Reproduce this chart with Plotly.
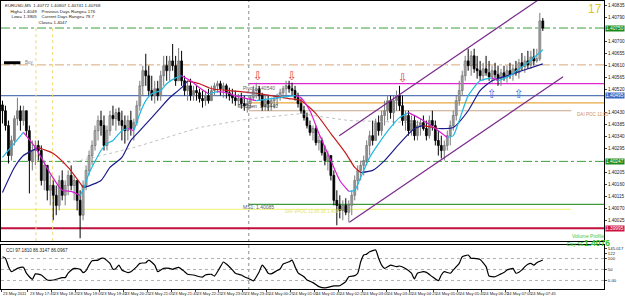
import plotly.graph_objects as go

# ---------------- data (EURUSD M5, bar index 0 = 23 May 17:00) ----------------
high = [1.40476,1.40457,1.40401,1.40344,1.40420,1.40487,1.40457,1.40457,1.40438,1.40382,
        1.40326,1.40326,1.40326,1.40307,1.40250,1.40232,1.40194,1.40175,1.40156,1.40194,
        1.40213,1.40175,1.40213,1.40232,1.40194,1.40175,1.40138,1.40175,1.40232,1.40288,
        1.40326,1.40382,1.40420,1.40438,1.40420,1.40382,1.40438,1.40457,1.40446,1.40450,
        1.40438,1.40420,1.40420,1.40438,1.40408,1.40476,1.40551,1.40608,1.40653,1.40608,
        1.40570,1.40551,1.40551,1.40589,1.40645,1.40645,1.40645,1.40690,1.40645,1.40675,
        1.40664,1.40570,1.40551,1.40559,1.40532,1.40532,1.40521,1.40514,1.40514,1.40521,
        1.40532,1.40544,1.40551,1.40551,1.40544,1.40540,1.40525,1.40521,1.40514,1.40502,
        1.40506,1.40495,1.40484,1.40495,1.40532,1.40544,1.40532,1.40506,1.40495,1.40495,
        1.40487,1.40495,1.40502,1.40521,1.40532,1.40551,1.40551,1.40544,1.40532,1.40506,
        1.40484,1.40457,1.40431,1.40401,1.40382,1.40382,1.40344,1.40337,1.40307,1.40288,
        1.40269,1.40213,1.40138,1.40119,1.40100,1.40108,1.40100,1.40138,1.40194,1.40232,
        1.40250,1.40269,1.40326,1.40363,1.40401,1.40408,1.40420,1.40438,1.40476,1.40495,
        1.40495,1.40495,1.40514,1.40532,1.40495,1.40438,1.40438,1.40420,1.40420,1.40401,
        1.40408,1.40420,1.40401,1.40420,1.40438,1.40401,1.40363,1.40344,1.40326,1.40363,
        1.40401,1.40438,1.40495,1.40551,1.40589,1.40645,1.40672,1.40664,1.40672,1.40645,
        1.40626,1.40619,1.40645,1.40626,1.40608,1.40619,1.40608,1.40596,1.40608,1.40608,
        1.40619,1.40611,1.40626,1.40634,1.40656,1.40645,1.40664,1.40664,1.40672,1.40672,
        1.40807,1.40788]
low = [1.40390,1.40363,1.40239,1.40250,1.40307,1.40382,1.40363,1.40382,1.40344,1.40126,
       1.40213,1.40232,1.40250,1.40156,1.40138,1.40100,1.40081,1.40025,1.40044,1.40062,
       1.40100,1.40081,1.40119,1.40138,1.40100,1.40062,1.39957,1.40025,1.40138,1.40194,
       1.40232,1.40288,1.40326,1.40344,1.40288,1.40288,1.40344,1.40382,1.40363,1.40382,
       1.40326,1.40314,1.40326,1.40344,1.40326,1.40382,1.40438,1.40495,1.40532,1.40495,
       1.40476,1.40465,1.40476,1.40476,1.40532,1.40551,1.40551,1.40589,1.40532,1.40551,
       1.40532,1.40495,1.40476,1.40476,1.40476,1.40476,1.40469,1.40450,1.40457,1.40465,
       1.40476,1.40495,1.40506,1.40495,1.40487,1.40484,1.40476,1.40465,1.40457,1.40450,
       1.40446,1.40438,1.40431,1.40446,1.40476,1.40484,1.40476,1.40438,1.40438,1.40438,
       1.40438,1.40446,1.40457,1.40476,1.40487,1.40495,1.40506,1.40495,1.40476,1.40450,
       1.40427,1.40401,1.40371,1.40344,1.40326,1.40307,1.40288,1.40269,1.40232,1.40213,
       1.40175,1.40081,1.40006,1.40032,1.40025,1.40044,1.40017,1.40044,1.40100,1.40138,
       1.40175,1.40194,1.40232,1.40269,1.40307,1.40326,1.40344,1.40344,1.40382,1.40401,
       1.40408,1.40382,1.40438,1.40438,1.40382,1.40363,1.40344,1.40344,1.40326,1.40326,
       1.40344,1.40363,1.40326,1.40333,1.40363,1.40307,1.40269,1.40258,1.40250,1.40288,
       1.40307,1.40363,1.40401,1.40457,1.40495,1.40551,1.40589,1.40570,1.40581,1.40559,
       1.40551,1.40551,1.40570,1.40551,1.40544,1.40559,1.40532,1.40532,1.40551,1.40544,
       1.40559,1.40551,1.40570,1.40559,1.40589,1.40581,1.40596,1.40596,1.40608,1.40619,
       1.40626,1.40739]
close = [1.40438,1.40382,1.40269,1.40326,1.40408,1.40438,1.40401,1.40438,1.40363,1.40250,
         1.40288,1.40307,1.40288,1.40175,1.40232,1.40138,1.40156,1.40119,1.40081,1.40175,
         1.40119,1.40156,1.40194,1.40156,1.40175,1.40100,1.40044,1.40156,1.40213,1.40269,
         1.40307,1.40363,1.40401,1.40382,1.40307,1.40363,1.40420,1.40408,1.40431,1.40401,
         1.40382,1.40363,1.40401,1.40371,1.40393,1.40457,1.40532,1.40589,1.40570,1.40514,
         1.40495,1.40521,1.40495,1.40570,1.40608,1.40589,1.40626,1.40608,1.40551,1.40626,
         1.40551,1.40514,1.40532,1.40495,1.40514,1.40506,1.40484,1.40476,1.40495,1.40476,
         1.40514,1.40532,1.40540,1.40521,1.40532,1.40506,1.40495,1.40487,1.40476,1.40484,
         1.40465,1.40457,1.40465,1.40487,1.40514,1.40521,1.40495,1.40454,1.40476,1.40465,
         1.40476,1.40484,1.40491,1.40506,1.40521,1.40532,1.40521,1.40514,1.40487,1.40465,
         1.40438,1.40412,1.40382,1.40356,1.40371,1.40318,1.40326,1.40280,1.40250,1.40269,
         1.40194,1.40100,1.40081,1.40062,1.40081,1.40055,1.40081,1.40119,1.40175,1.40213,
         1.40232,1.40250,1.40307,1.40344,1.40326,1.40393,1.40363,1.40420,1.40438,1.40476,
         1.40431,1.40476,1.40495,1.40457,1.40401,1.40420,1.40363,1.40401,1.40344,1.40382,
         1.40393,1.40371,1.40344,1.40401,1.40382,1.40326,1.40307,1.40288,1.40307,1.40344,
         1.40382,1.40420,1.40476,1.40514,1.40570,1.40626,1.40608,1.40645,1.40596,1.40589,
         1.40570,1.40596,1.40581,1.40566,1.40589,1.40574,1.40559,1.40581,1.40566,1.40589,
         1.40574,1.40596,1.40581,1.40619,1.40604,1.40626,1.40611,1.40641,1.40626,1.40634,
         1.40777,1.40750]
first_open = 1.40460

fast_bar = [0,7,11,16,20,23,26,27,29,33,35,37,40,42,44,46,48,50,53,55,58,60,63,66,69,72,75,79,85,90,
            95,98,100,103,106,110,113,116,118,120,123,126,130,133,136,140,145,149,151,153,156,160,164,166,170,173,176,181]
fast_val = [1.40262,1.40356,1.40299,1.40202,1.40138,1.40134,1.40119,1.40138,1.40202,1.40288,
            1.40314,1.40326,1.40363,1.40371,1.40363,1.40427,1.40476,1.40502,1.40514,1.40540,
            1.40562,1.40570,1.40551,1.40525,1.40502,1.40510,1.40506,1.40491,1.40476,1.40484,
            1.40491,1.40495,1.40487,1.40438,1.40352,1.40250,1.40175,1.40134,1.40138,1.40187,
            1.40262,1.40314,1.40375,1.40412,1.40431,1.40408,1.40371,1.40337,1.40344,1.40401,
            1.40495,1.40551,1.40562,1.40551,1.40570,1.40596,1.40619,1.40668]
slow_bar = [0,4,7,10,12,17,22,27,28,33,36,40,43,46,50,53,56,60,62,66,70,76,83,90,96,100,105,110,115,118,
            120,124,128,133,138,141,146,151,156,160,164,169,174,181]
slow_val = [1.40130,1.40224,1.40269,1.40288,1.40299,1.40277,1.40224,1.40149,1.40151,1.40175,
            1.40224,1.40262,1.40326,1.40363,1.40412,1.40450,1.40487,1.40525,1.40551,1.40540,
            1.40521,1.40514,1.40506,1.40495,1.40484,1.40476,1.40427,1.40352,1.40277,1.40224,
            1.40205,1.40213,1.40250,1.40314,1.40371,1.40382,1.40371,1.40375,1.40438,1.40514,
            1.40551,1.40570,1.40589,1.40615]
grey_bar = [20,26,33,44,55,66,83,100,116,140]
grey_val = [1.40239,1.40250,1.40269,1.40299,1.40337,1.40375,1.40408,1.40427,1.40401,1.40393]

cci_bar = [0,1,2,3,5,7,8,10,11,13,15,17,20,21,22,24,26,27,28,29,30,32,33,34,36,37,38,39,40,42,
           43,45,46,48,49,51,52,53,54,56,57,59,61,62,64,66,67,68,70,71,73,74,75,77,78,80,81,83,84,86,
           87,88,89,90,92,93,94,96,97,98,99,101,102,104,106,108,110,111,113,115,116,118,119,120,121,122,123,125,126,127,
           128,130,132,133,135,137,138,139,141,142,144,146,147,148,150,151,153,154,156,157,158,160,162,163,165,167,168,169,170,171,
           172,173,174,175,176,177,178,179,181]
cci_val = [108,101,63,40,55,60,33,5,30,25,2,2,13,13,33,55,51,36,45,70,90,93,101,101,78,51,55,70,48,36,
           40,63,78,81,93,70,40,48,55,55,51,60,40,28,25,17,15,25,28,20,63,84,75,48,33,25,17,5,-2,40,
           70,55,33,30,45,52,75,85,93,63,35,17,2,-10,-28,-34,-28,-25,-24,-5,17,22,33,85,116,120,131,139,101,70,
           55,70,63,66,55,33,7,33,40,37,17,-1,25,40,33,48,78,108,116,101,101,96,63,20,17,30,36,48,52,55,
           33,37,48,63,74,78,70,81,93]

# horizontal levels: price, start bar, end bar, colour, width, dash
level_price = [1.40750, 1.40611, 1.40540, 1.40495, 1.40468, 1.40438, 1.40247, 1.40085, 1.40066, 1.39995]
level_start = [-0.5, -0.5, 82.5, -0.5, 82.5, 82.5, -0.5, 82.5, -0.5, -0.5]
level_end = [201.5, 201.5, 201.5, 201.5, 201.5, 190.5, 201.5, 201.5, 190.5, 201.5]
level_color = ['#3aa03a', '#d8a878', '#e028d0', '#5878b8', '#e8a840', '#c8a488', '#3aa03a', '#3f9a3f', '#f4f48c', '#c0103c']
level_width = [1, 1, 1.3, 1.3, 1.3, 1, 1, 1.3, 1.3, 2]
level_dash = ['dashdot', 'dashdot', 'solid', 'solid', 'solid', 'solid', 'dashdot', 'solid', 'solid', 'solid']

chan_up_x = [112.8, 180.0]
chan_up_y = [1.40344, 1.40860]
chan_lo_x = [116.2, 187.8]
chan_lo_y = [1.40017, 1.40566]

down_arrow_bar = [85.5, 97, 134]
down_arrow_price = [1.40570, 1.40570, 1.40560]
up_arrow_bar = [164, 173]
up_arrow_price = [1.40502, 1.40502]

tick_vals = [1.40835,1.40790,1.40700,1.40655,1.40610,1.40565,1.40520,1.40430,
             1.40385,1.40340,1.40295,1.40205,1.40160,1.40115,1.40070,1.40025]
time_bar = [0,9,17,25,33,41,49,57,65,73,81,89,97,105,113,121,129,137,145,153,161,169,177]
time_text = ['23 May 2011','23 May 17:45','23 May 18:25','23 May 19:05','23 May 19:45','23 May 20:25',
             '23 May 21:05','23 May 21:45','23 May 22:25','23 May 23:05','23 May 23:45','24 May 00:25',
             '24 May 01:05','24 May 01:45','24 May 02:25','24 May 03:05','24 May 03:45','24 May 04:25',
             '24 May 05:05','24 May 05:45','24 May 06:25','24 May 07:05','24 May 07:45']

# ---------------- figure ----------------
W, H = 625, 298
ML, MR, MT, MB = 0, 19, 0, 8
PW, PH = W - ML - MR, H - MT - MB
def px(xp):
    return (xp - ML) / PW
def py(yp):
    return 1 - (yp - MT) / PH

FONT = 'Liberation Sans'
bars = list(range(len(close)))
opn = [first_open] + close[:-1]
hi = [max(h, o, c) for h, o, c in zip(high, opn, close)]
lo = [min(l, o, c) for l, o, c in zip(low, opn, close)]

fig = go.Figure()

shapes = []
for p, s, e, c, w, d in zip(level_price, level_start, level_end, level_color, level_width, level_dash):
    shapes.append(dict(type='line', xref='x', yref='y', x0=s, x1=e, y0=p, y1=p,
                       line=dict(color=c, width=w, dash=d), layer='below'))
shapes.append(dict(type='line', xref='x', yref='paper', x0=82.5, x1=82.5, y0=0, y1=1,
                   line=dict(color='#8c8c8c', width=1, dash='dot'), layer='below'))
for vb in [11.2, 16.8]:
    shapes.append(dict(type='line', xref='x', yref='y', x0=vb, x1=vb, y0=1.39946, y1=1.40750,
                       line=dict(color='#f0d870', width=1, dash='dot'), layer='below'))
for lv in [100, 50, 0]:
    shapes.append(dict(type='line', xref='x2', yref='y2', x0=-0.5, x1=201.5, y0=lv, y1=lv,
                       line=dict(color='#b0b0b0', width=1, dash='dot'), layer='below'))
shapes.append(dict(type='line', xref='x', yref='y', x0=0.5, x1=6, y0=1.40619, y1=1.40619,
                   line=dict(color='#000000', width=3)))

fig.add_trace(go.Scatter(x=grey_bar, y=grey_val, mode='lines', line=dict(color='#c0c0c0', width=1, dash='dot'),
                         hoverinfo='skip', xaxis='x', yaxis='y'))

# candles: wicks + bodies
def wick_trace(idx, color):
    xs, ys = [], []
    for i in idx:
        xs += [i, i, None]
        ys += [lo[i], hi[i], None]
    return go.Scatter(x=xs, y=ys, mode='lines', line=dict(color=color, width=1), hoverinfo='skip',
                      xaxis='x', yaxis='y')

up_idx = [i for i in bars if close[i] >= opn[i]]
dn_idx = [i for i in bars if close[i] < opn[i]]
fig.add_trace(wick_trace(up_idx, '#7a7a7a'))
fig.add_trace(wick_trace(dn_idx, '#000000'))
MINB = 0.000025
def body(idx, fill, edge):
    base = [min(opn[i], close[i]) for i in idx]
    hgt = [max(abs(close[i] - opn[i]), MINB) for i in idx]
    return go.Bar(x=idx, y=hgt, base=base, width=0.62, marker=dict(color=fill, line=dict(color=edge, width=0.8)),
                  hoverinfo='skip', xaxis='x', yaxis='y')
fig.add_trace(body(up_idx, '#ffffff', '#6a6a6a'))
fig.add_trace(body(dn_idx, '#000000', '#000000'))

def add_colored(xs, ys, up, down, width):
    sx, sy, cur = [xs[0]], [ys[0]], None
    for i in range(1, len(xs)):
        c = up if ys[i] >= ys[i - 1] else down
        if cur is None:
            cur = c
        if c != cur:
            fig.add_trace(go.Scatter(x=sx, y=sy, mode='lines', line=dict(color=cur, width=width, shape='spline', smoothing=0.6),
                                     hoverinfo='skip', xaxis='x', yaxis='y'))
            sx, sy, cur = [xs[i - 1]], [ys[i - 1]], c
        sx.append(xs[i]); sy.append(ys[i])
    fig.add_trace(go.Scatter(x=sx, y=sy, mode='lines', line=dict(color=cur, width=width, shape='spline', smoothing=0.6),
                             hoverinfo='skip', xaxis='x', yaxis='y'))

add_colored(slow_bar, slow_val, '#1c1c8c', '#c41a1a', 1.2)
add_colored(fast_bar, fast_val, '#20b8e0', '#d81cd0', 1.2)

for cx, cy in [(chan_up_x, chan_up_y), (chan_lo_x, chan_lo_y)]:
    fig.add_trace(go.Scatter(x=cx, y=cy, mode='lines', line=dict(color='#7a2a8c', width=1.2),
                             hoverinfo='skip', xaxis='x', yaxis='y'))

fig.add_trace(go.Scatter(x=cci_bar, y=cci_val, mode='lines', line=dict(color='#000000', width=1.2, shape='spline', smoothing=0.5),
                         hoverinfo='skip', xaxis='x2', yaxis='y2'))

ann = []
for b, p in zip(down_arrow_bar, down_arrow_price):
    ann.append(dict(x=b, y=p, xref='x', yref='y', text='⇩', showarrow=False,
                    font=dict(family='DejaVu Sans', size=12, color='#e03a3a')))
for b, p in zip(up_arrow_bar, up_arrow_price):
    ann.append(dict(x=b, y=p, xref='x', yref='y', text='⇧', showarrow=False,
                    font=dict(family='DejaVu Sans', size=12, color='#3a70e0')))

def txt(x, y, t, size=5.5, color='#404040', xanchor='left', yanchor='middle', family=FONT):
    ann.append(dict(x=x, y=y, xref='paper', yref='paper', text=t, showarrow=False, xanchor=xanchor,
                    yanchor=yanchor, font=dict(family=family, size=size, color=color)))

txt(px(2), py(0.5), 'EURUSD,M5  1.40772 1.40807 1.40741 1.40768<br>High= 1.4049    Previous Days Range= 176<br>'
    'Low= 1.3905    Current Days Range= 79.7<br>Close= 1.4047', size=4.4, color='#202020', yanchor='top')
txt(px(606), py(8), '17', size=12, color='#e6c020', xanchor='right')
txt(px(22), py(62), 'Buy', size=4.5, color='#808080')
txt(px(241), py(87), 'Pivot: 1.40540', size=5, color='#606060')
txt(px(244), py(92), 'Today', size=4.2, color='#7090b0')
txt(px(236), py(105), 'To Open  1.40440', size=5, color='#404040')
txt(px(241), py(207), 'MS1: 1.40085', size=5, color='#606060')
txt(px(283), py(211.5), 'DAI VPOC 11:05:33 1.4007', size=4.6, color='#e0e060')
txt(px(577), py(114), 'DAI POC 11:05', size=4.6, color='#d09060')
txt(px(590), py(236), 'Volume Profile', size=5, color='#40c840', xanchor='center')
txt(px(590), py(242.5), "<span style='font-size:5px'>Day:SE</span><b>1.4076</b>", size=8.5, color='#30c030', xanchor='center')
txt(px(3), py(250), 'CCI 97.1810 86.3147 86.0967', size=4.6, color='#202020')

hl = [(1.40750, '#1a8a1a'), (1.40495, '#3a68c0'), (1.40247, '#1a8a1a'), (1.39995, '#d01040')]
for p, c in hl:
    ann.append(dict(x=1, y=p, xref='paper', yref='y', text='%.5f' % p, showarrow=False, xanchor='left',
                    xshift=1, bgcolor=c, borderpad=0, font=dict(family=FONT, size=4.8, color='#ffffff')))

for b, t in zip(time_bar, time_text):
    ann.append(dict(x=b - 0.5, y=py(293.5), xref='x2', yref='paper', text=t, showarrow=False, xanchor='left',
                    yanchor='middle', font=dict(family=FONT, size=4.1, color='#202020')))

main_bottom = py(241)
cci_top, cci_bottom = py(245), py(289)

axis_common = dict(showgrid=False, zeroline=False, showline=True, mirror=True, linecolor='#000000', linewidth=1)
fig.update_layout(
    width=W, height=H, margin=dict(l=ML, r=MR, t=MT, b=MB),
    paper_bgcolor='#ffffff', plot_bgcolor='#ffffff', showlegend=False, barmode='overlay',
    shapes=shapes, annotations=ann,
    xaxis=dict(domain=[0, 1], range=[-0.5, 201.5], showticklabels=False, ticks='', anchor='y', **axis_common),
    xaxis2=dict(domain=[0, 1], range=[-0.5, 201.5], showticklabels=False, ticks='outside', ticklen=2,
                tickvals=[b - 0.5 for b in time_bar], anchor='y2', matches='x', **axis_common),
    yaxis=dict(domain=[main_bottom, 1], range=[1.39946, 1.40852], side='right', anchor='x',
               tickvals=tick_vals, tickformat='.5f', ticks='outside', ticklen=2,
               tickfont=dict(family=FONT, size=4.6, color='#202020'), **axis_common),
    yaxis2=dict(domain=[cci_bottom, cci_top], range=[-39, 161], side='right', anchor='x2',
                tickvals=[145, 122, 100, 50, 0], ticktext=['145.017', '122', '100', '50', '0.00'],
                ticks='outside', ticklen=2, tickfont=dict(family=FONT, size=4.3, color='#202020'), **axis_common),
)

fig.write_html('out.html')
